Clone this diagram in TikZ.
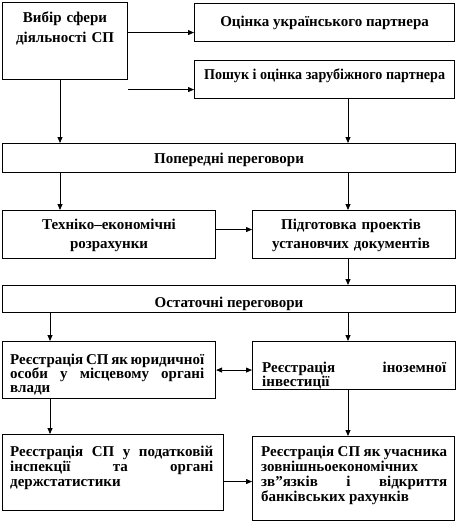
\documentclass[tikz,border=0pt]{standalone}
\usepackage{graphicx}
\usepackage{fontspec}
\setmainfont{Liberation Serif}
\usetikzlibrary{arrows.meta}
\hyphenpenalty=10000
\exhyphenpenalty=10000
\tikzset{
  box/.style={draw, line width=1.1pt, inner sep=0pt, anchor=north west},
  txt/.style={inner sep=0pt, font=\bfseries\fontsize{15}{#1}\selectfont},
  conn/.style={line width=0.8pt, -{Triangle[length=6pt,width=5pt]}},
  dconn/.style={line width=0.8pt, {Triangle[length=6pt,width=5pt]}-{Triangle[length=6pt,width=5pt]}},
}
\begin{document}
\begin{tikzpicture}[x=1pt,y=-1pt]
\useasboundingbox (0,0) rectangle (457,525);
% boxes
\node[box, minimum width=125pt, minimum height=77pt] (b1) at (2,2) {};
\node[box, minimum width=260pt, minimum height=38pt] (b2) at (194,3) {};
\node[box, minimum width=260pt, minimum height=38pt] (b3) at (194,60) {};
\node[box, minimum width=453pt, minimum height=29pt] (b4) at (2,143) {};
\node[box, minimum width=213pt, minimum height=48pt] (b5) at (2,210) {};
\node[box, minimum width=203pt, minimum height=48pt] (b6) at (252,210) {};
\node[box, minimum width=453pt, minimum height=27pt] (b7) at (2,285) {};
\node[box, minimum width=213pt, minimum height=57pt] (b8) at (2,341) {};
\node[box, minimum width=203pt, minimum height=48pt] (b9) at (252,341) {};
\node[box, minimum width=221pt, minimum height=76pt] (b10) at (2,434) {};
\node[box, minimum width=202pt, minimum height=84pt] (b11) at (252,436) {};
% texts
\node[txt=20, text width=120pt, align=center, anchor=base] (t1) at ([yshift=-20pt]b1.north) {Вибір сфери\\діяльності СП};
\node[txt=15, anchor=base] (t2) at ([yshift=-23pt]b2.north) {Оцінка українського партнера};
\node[txt=15, anchor=base] (t3) at ([yshift=-19pt]b3.north) {\scalebox{0.94}[1]{Пошук і оцінка зарубіжного партнера}};
\node[txt=15, anchor=base] (t4) at ([yshift=-20pt]b4.north) {Попередні переговори};
\node[txt=19, text width=200pt, align=center, anchor=base] (t5) at ([yshift=-19pt]b5.north) {Техніко–економічні\\розрахунки};
\node[txt=19, text width=200pt, align=center, anchor=base] (t6) at ([xshift=-3pt,yshift=-19pt]b6.north) {Підготовка проектів\\установчих документів};
\node[txt=15, anchor=base] (t7) at ([yshift=-22pt]b7.north) {Остаточні переговори};
\node[txt=14, text width=194pt, align=justify, anchor=base west] (t8) at ([xshift=8pt,yshift=-23pt]b8.north west) {Реєстрація СП як юридичної\linebreak особи у місцевому органі\linebreak влади};
\node[txt=13, text width=184pt, align=justify, anchor=base west] (t9) at ([xshift=10pt,yshift=-31pt]b9.north west) {Реєстрація іноземної\linebreak інвестиції};
\node[txt=15, text width=203pt, align=justify, anchor=base west] (t10) at ([xshift=8pt,yshift=-22pt]b10.north west) {Реєстрація СП у податковій\linebreak інспекції та органі\linebreak держстатистики};
\node[txt=15, text width=186pt, align=justify, anchor=base west] (t11) at ([xshift=9pt,yshift=-20pt]b11.north west) {Реєстрація СП як учасника\linebreak зовнішньоекономічних\\зв”язків і відкриття\linebreak банківських рахунків};
% helper coordinates
\coordinate (xl) at (60,0);
\coordinate (xm) at (50,0);
\coordinate (xr) at (348,0);
\coordinate (a2) at ([yshift=-10pt]b2.west);
\coordinate (a3) at ([yshift=-10pt]b3.west);
\coordinate (a6) at ([yshift=5pt]b6.west);
\coordinate (a11) at ([yshift=-9pt]b10.east);
% connectors
\draw[conn] (a2 -| b1.east) -- (a2);
\draw[conn] (a3 -| b1.east) -- (a3);
\draw[conn] (b1.south -| xl) -- (b4.north -| xl);
\draw[conn] (b3.south -| xr) -- (b4.north -| xr);
\draw[conn] (b4.south -| xl) -- (b5.north -| xl);
\draw[conn] (b4.south -| xr) -- (b6.north -| xr);
\draw[conn] (a6 -| b5.east) -- (a6);
\draw[conn] (b6.south -| xr) -- (b7.north -| xr);
\draw[conn] (b7.south -| xm) -- (b8.north -| xm);
\draw[conn] (b7.south -| xr) -- (b9.north -| xr);
\draw[dconn] (b8.east) -- (b8.east -| b9.west);
\draw[conn] (b8.south -| xm) -- (b10.north -| xm);
\draw[conn] (b9.south -| xr) -- (b11.north -| xr);
\draw[conn] (a11) -- (a11 -| b11.west);
\end{tikzpicture}
\end{document}
